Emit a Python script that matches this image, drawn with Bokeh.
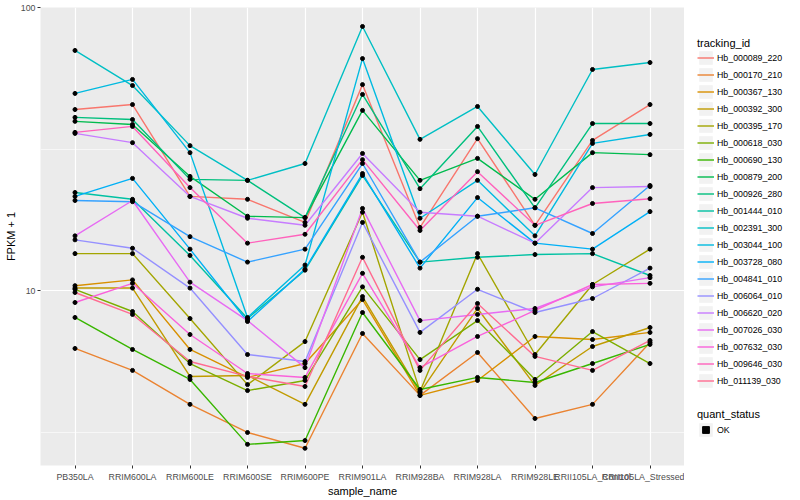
from bokeh.plotting import figure
from bokeh.layouts import row
from bokeh.models import ColumnDataSource, Range1d, FixedTicker, Legend, LegendItem
from bokeh.embed import file_html
from bokeh.resources import INLINE

samples = ["PB350LA", "RRIM600LA", "RRIM600LE", "RRIM600SE", "RRIM600PE",
           "RRIM901LA", "RRIM928BA", "RRIM928LA", "RRIM928LE",
           "RRII105LA_Control", "RRII105LA_Stressed"]

tracking_ids = ["Hb_000089_220", "Hb_000170_210", "Hb_000367_130", "Hb_000392_300",
                "Hb_000395_170", "Hb_000618_030", "Hb_000690_130", "Hb_000879_200",
                "Hb_000926_280", "Hb_001444_010", "Hb_002391_300", "Hb_003044_100",
                "Hb_003728_080", "Hb_004841_010", "Hb_006064_010", "Hb_006620_020",
                "Hb_007026_030", "Hb_007632_030", "Hb_009646_030", "Hb_011139_030"]

colors = ["#F8766D", "#EA8331", "#D89000", "#C09B00", "#A3A500", "#7CAE00", "#39B600",
          "#00BB4E", "#00BF7D", "#00C1A3", "#00BFC4", "#00BAE0", "#00B0F6", "#35A2FF",
          "#9590FF", "#C77CFF", "#E76BF3", "#FA62DB", "#FF62BC", "#FF6C91"]

# FPKM + 1 per sample, one list per tracking_id
Hb_000089_220 = [43.6, 45.4, 21.5, 21.0, 17.4, 53.4, 16.7, 34.4, 17.0, 33.9, 45.4]
Hb_000170_210 = [6.24, 5.22, 3.96, 3.15, 2.77, 7.05, 4.26, 6.04, 3.53, 3.96, 6.55]
Hb_000367_130 = [10.4, 10.9, 6.19, 4.93, 5.52, 9.29, 4.26, 4.81, 6.88, 6.71, 7.11]
Hb_000392_300 = [10.2, 10.2, 4.97, 5.01, 3.96, 9.52, 4.36, 8.64, 4.62, 6.34, 7.40]
Hb_000395_170 = [13.5, 13.5, 7.96, 4.65, 6.60, 18.9, 4.40, 13.5, 5.94, 10.5, 14.0]
Hb_000618_030 = [10.1, 8.43, 5.52, 4.43, 4.81, 10.3, 5.70, 7.83, 4.85, 7.16, 5.52]
Hb_000690_130 = [8.03, 6.19, 4.85, 2.86, 2.95, 8.36, 4.47, 4.93, 4.73, 5.52, 6.45]
Hb_000879_200 = [39.6, 38.6, 25.3, 18.3, 18.1, 43.3, 24.5, 29.3, 21.0, 30.7, 30.2]
Hb_000926_280 = [40.9, 40.2, 24.7, 24.5, 18.1, 49.3, 22.9, 38.0, 19.6, 38.9, 38.9]
Hb_001444_010 = [22.2, 21.0, 13.3, 7.96, 11.8, 25.5, 12.6, 13.1, 13.4, 13.5, 11.3]
Hb_002391_300 = [70.5, 53.0, 32.5, 24.5, 28.1, 85.7, 34.2, 44.7, 25.7, 60.4, 63.9]
Hb_003044_100 = [49.7, 55.7, 30.7, 8.03, 12.3, 66.0, 18.0, 24.5, 15.6, 33.1, 35.6]
Hb_003728_080 = [21.5, 24.9, 14.0, 7.77, 11.9, 25.9, 12.0, 21.3, 14.7, 14.0, 19.0]
Hb_004841_010 = [20.8, 20.6, 15.5, 12.6, 14.0, 28.1, 12.6, 18.3, 19.6, 15.9, 23.5]
Hb_006064_010 = [15.1, 14.1, 10.2, 5.94, 5.61, 17.4, 7.11, 10.1, 8.36, 9.37, 12.0]
Hb_006620_020 = [35.9, 33.3, 21.5, 18.0, 17.0, 30.5, 18.9, 18.3, 14.7, 23.1, 23.3]
Hb_007026_030 = [15.6, 20.8, 10.7, 7.83, 5.34, 19.5, 7.83, 8.23, 8.64, 10.3, 11.1]
Hb_007632_030 = [9.07, 10.6, 6.99, 5.09, 4.93, 11.5, 5.34, 6.88, 8.50, 10.5, 10.6]
Hb_009646_030 = [36.2, 38.0, 23.1, 14.7, 15.8, 29.0, 16.3, 26.3, 17.0, 20.3, 21.1]
Hb_011139_030 = [9.84, 8.23, 5.61, 4.97, 4.58, 13.1, 5.22, 9.00, 5.85, 5.22, 6.66]

series = [Hb_000089_220, Hb_000170_210, Hb_000367_130, Hb_000392_300, Hb_000395_170,
          Hb_000618_030, Hb_000690_130, Hb_000879_200, Hb_000926_280, Hb_001444_010,
          Hb_002391_300, Hb_003044_100, Hb_003728_080, Hb_004841_010, Hb_006064_010,
          Hb_006620_020, Hb_007026_030, Hb_007632_030, Hb_009646_030, Hb_011139_030]

quant_status = ["OK"]
y_ticks = [10, 100]
y_minor = [3.1623, 31.623]

FONT = "Liberation Sans"
xpos = [i + 1 for i in range(len(samples))]

p = figure(width=684, height=500,
           x_range=Range1d(0.4, len(samples) + 0.6),
           y_range=Range1d(2.408, 100), y_axis_type="log",
           output_backend="svg", toolbar_location=None,
           min_border_left=40, min_border_right=0, min_border_top=7, min_border_bottom=35,
           background_fill_color="#EBEBEB", border_fill_color="white",
           outline_line_color=None,
           x_axis_label="sample_name", y_axis_label="FPKM + 1")

# axes
p.xaxis.ticker = FixedTicker(ticks=xpos)
p.xaxis.major_label_overrides = {x: s for x, s in zip(xpos, samples)}
p.yaxis.ticker = FixedTicker(ticks=y_ticks, minor_ticks=[])
p.yaxis.major_label_overrides = {t: str(t) for t in y_ticks}
for ax in (p.xaxis[0], p.yaxis[0]):
    ax.axis_line_color = None
    ax.major_tick_line_color = "#333333"
    ax.major_tick_line_width = 1
    ax.major_tick_out = 3
    ax.major_tick_in = 0
    ax.minor_tick_line_color = None
    ax.major_label_text_color = "#4D4D4D"
    ax.major_label_text_font = FONT
    ax.major_label_text_font_size = "8.8px"
    ax.axis_label_text_font = FONT
    ax.axis_label_text_font_size = "11px"
    ax.axis_label_text_font_style = "normal"
    ax.axis_label_text_color = "black"
p.xaxis.major_label_standoff = 3
p.xaxis.axis_label_standoff = 0
p.yaxis.major_label_standoff = 2
p.yaxis.axis_label_standoff = 1

# grid
p.xgrid.ticker = FixedTicker(ticks=xpos)
p.xgrid.grid_line_color = "white"
p.xgrid.grid_line_width = 1.2
p.ygrid.ticker = FixedTicker(ticks=y_ticks, minor_ticks=y_minor)
p.ygrid.grid_line_color = "white"
p.ygrid.grid_line_width = 1.2
p.ygrid.minor_grid_line_color = "white"
p.ygrid.minor_grid_line_width = 0.6

sources = []
all_x, all_y = [], []
for vals, col in zip(series, colors):
    src = ColumnDataSource(dict(x=xpos, y=vals))
    sources.append(src)
    p.line("x", "y", source=src, line_color=col, line_width=1.4)
    all_x += xpos
    all_y += vals

pts = ColumnDataSource(dict(x=all_x, y=all_y))
p.scatter("x", "y", source=pts, marker="circle", size=4, color="black")

# legend panel (separate canvas to the right of the plot)
lf = figure(width=116, height=500, x_range=Range1d(0, 1), y_range=Range1d(0, 1),
            output_backend="svg", toolbar_location=None,
            min_border=0, outline_line_color=None,
            background_fill_color="white", border_fill_color="white")
lf.axis.visible = False
lf.grid.visible = False

key_bg = lf.rect("x", "y", width=0, height=0, source=pts, fill_color="#F2F2F2",
                 line_color=None, visible=False)
ok_key = lf.scatter("x", "y", source=pts, marker="square", size=4, color="black",
                    visible=False)
key_lines = [lf.line("x", "y", source=src, line_color=col, line_width=1.4, visible=False)
             for src, col in zip(sources, colors)]

def style_legend(leg, standoff):
    leg.padding = 0
    leg.margin = 0
    leg.spacing = 0
    leg.glyph_width = 17
    leg.glyph_height = 17
    leg.label_height = 17
    leg.label_standoff = 3
    leg.label_text_font = FONT
    leg.label_text_font_size = "8.8px"
    leg.label_text_color = "black"
    leg.title_text_font = FONT
    leg.title_text_font_size = "11px"
    leg.title_text_font_style = "normal"
    leg.title_text_color = "black"
    leg.title_standoff = standoff
    leg.border_line_color = None
    leg.background_fill_alpha = 0

items = [LegendItem(label=t, renderers=[key_bg, r]) for t, r in zip(tracking_ids, key_lines)]
leg1 = Legend(items=items, title="tracking_id", location=(13, 76))
style_legend(leg1, 0)
lf.add_layout(leg1)

leg2 = Legend(items=[LegendItem(label=quant_status[0], renderers=[key_bg, ok_key])],
              title="quant_status", location=(13, 27))
style_legend(leg2, 1)
lf.add_layout(leg2)

layout = row(p, lf, spacing=0)
open("out.html", "w").write(file_html(layout, INLINE))
